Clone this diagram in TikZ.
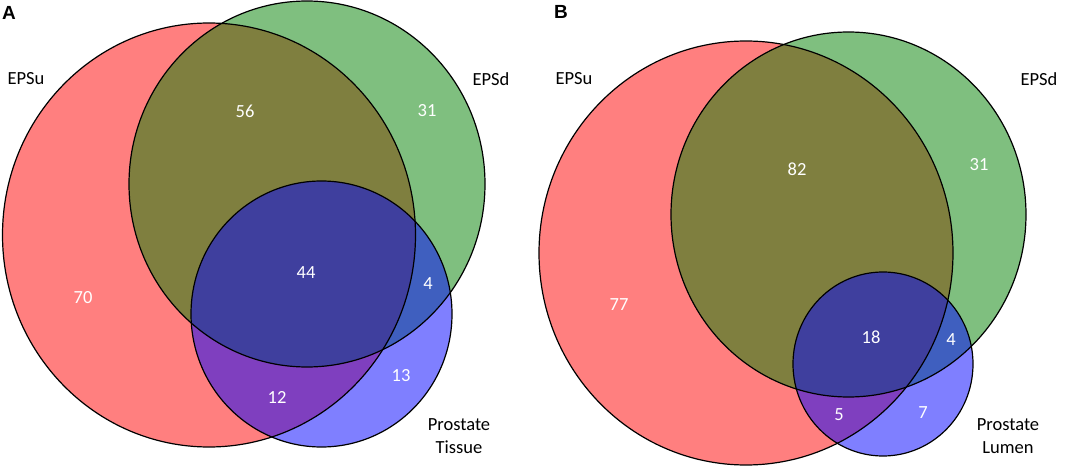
\documentclass[tikz,border=0pt]{standalone}
\usepackage{fontspec}
\setmainfont{Carlito}
\newfontfamily\panelfont{Liberation Sans}
\begin{document}
\begin{tikzpicture}[x=1pt,y=-1pt,
  setfill/.style={fill=#1, fill opacity=0.5, draw=none},
  setline/.style={draw=black, line width=1.2pt},
  num/.style={text=white, font=\fontsize{18.5}{22}\selectfont, inner sep=0pt},
  lab/.style={text=black, font=\fontsize{18.5}{22}\selectfont, inner sep=0pt, align=center},
  panel/.style={text=black, font=\fontsize{19}{23}\selectfont\panelfont\bfseries, inner sep=0pt}]
\definecolor{vred}{RGB}{255,0,0}
\definecolor{vgreen}{RGB}{0,128,0}
\definecolor{vblue}{RGB}{0,0,255}
\useasboundingbox (0,0) rectangle (1072,468);
% ---------- Panel A ----------
\coordinate (ra) at (209,235);
\coordinate (ga) at (307,184);
\coordinate (ba) at (321.5,314);
\fill[setfill=vred] (ra) ellipse [x radius=206.5pt, y radius=212pt];
\fill[setfill=vgreen] (ga) ellipse [x radius=178pt, y radius=183pt];
\fill[setfill=vblue] (ba) ellipse [x radius=130.5pt, y radius=133pt];
\draw[setline] (ra) ellipse [x radius=206.5pt, y radius=212pt];
\draw[setline] (ga) ellipse [x radius=178pt, y radius=183pt];
\draw[setline] (ba) ellipse [x radius=130.5pt, y radius=133pt];
\node[panel] (pA) at (9,13) {A};
\node[lab] (uA) at (26,79) {EPSu};
\node[lab] (dA) at (491,79) {EPSd};
\node[lab] (tA) at (459,436) {Prostate\\[1pt]Tissue};
\node[num] (a56) at (245,111) {56};
\node[num] (a31) at (427,111) {31};
\node[num] (a70) at (83,298) {70};
\node[num] (a44) at (306,273) {44};
\node[num] (a4) at (428,284) {4};
\node[num] (a13) at (401,376) {13};
\node[num] (a12) at (277,397) {12};
% ---------- Panel B ----------
\coordinate (rb) at (746,253);
\coordinate (gb) at (848.5,214.5);
\coordinate (bb) at (883,364);
\fill[setfill=vred] (rb) ellipse [x radius=207pt, y radius=212pt];
\fill[setfill=vgreen] (gb) ellipse [x radius=177.5pt, y radius=182.5pt];
\fill[setfill=vblue] (bb) ellipse [x radius=90pt, y radius=92pt];
\draw[setline] (rb) ellipse [x radius=207pt, y radius=212pt];
\draw[setline] (gb) ellipse [x radius=177.5pt, y radius=182.5pt];
\draw[setline] (bb) ellipse [x radius=90pt, y radius=92pt];
\node[panel] (pB) at (561,12) {B};
\node[lab] (uB) at (574,79) {EPSu};
\node[lab] (dB) at (1039,79) {EPSd};
\node[lab] (tB) at (1008,436) {Prostate\\[1pt]Lumen};
\node[num] (b82) at (797,169) {82};
\node[num] (b31) at (979,165) {31};
\node[num] (b77) at (619,305) {77};
\node[num] (b18) at (871,337) {18};
\node[num] (b4) at (951,340) {4};
\node[num] (b7) at (923,413) {7};
\node[num] (b5) at (839,415) {5};
\end{tikzpicture}
\end{document}
